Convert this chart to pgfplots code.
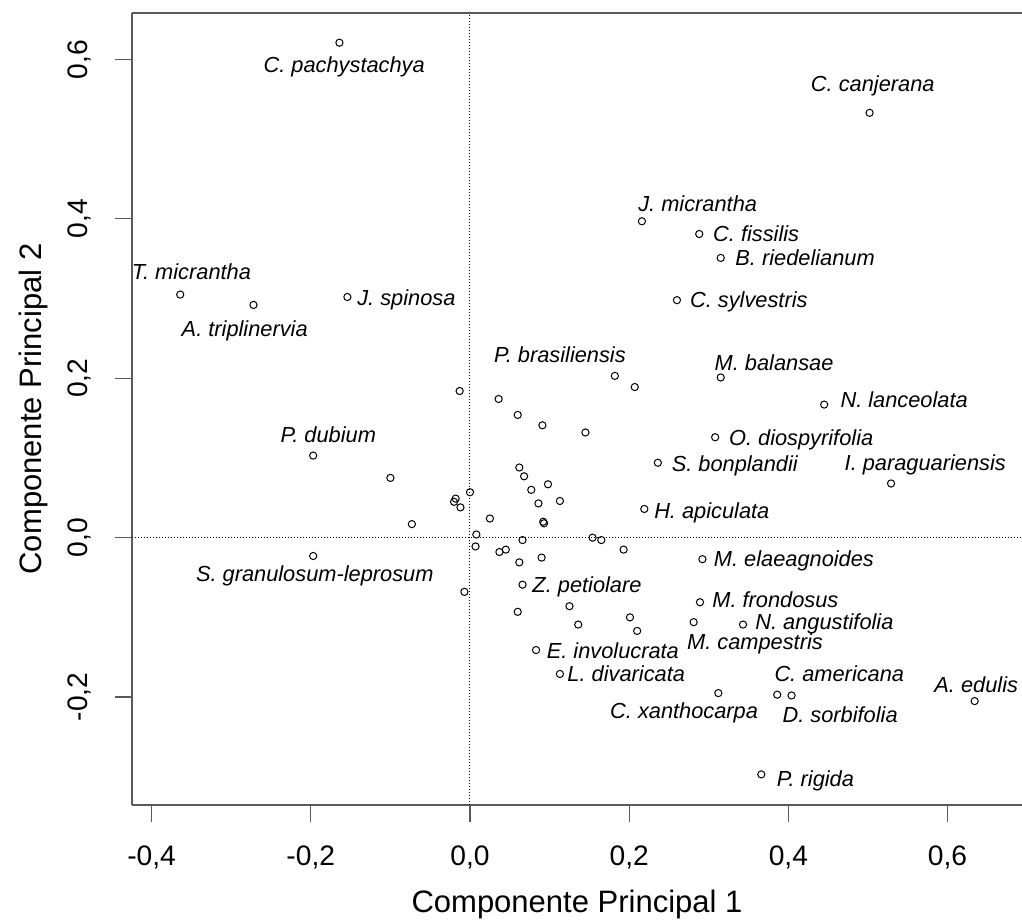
\documentclass[border=0pt]{standalone}
\usepackage{fontspec}
\setmainfont{Liberation Sans}
\usepackage{pgfplots}
\usepackage{pgfplotstable}
\pgfplotsset{compat=1.18}
\tikzset{lab/.style={font=\fontsize{10.9}{13}\selectfont\itshape, inner sep=0pt, yshift=-3.9pt}}

% PCA scores of the species (component 1, component 2)
\pgfplotstableread{
x y
-0.164 0.621
0.502 0.533
0.216 0.397
0.288 0.381
0.315 0.351
-0.364 0.305
-0.154 0.302
-0.272 0.292
0.260 0.298
0.182 0.203
0.207 0.189
0.315 0.201
-0.013 0.184
0.036 0.174
0.445 0.167
0.060 0.154
0.091 0.141
0.145 0.132
0.308 0.126
-0.197 0.103
0.236 0.094
0.062 0.088
0.068 0.077
-0.100 0.075
0.529 0.068
0.098 0.067
0.077 0.060
0.000 0.057
-0.018 0.049
-0.020 0.045
0.113 0.046
0.086 0.043
-0.012 0.038
0.219 0.036
0.025 0.024
0.092 0.020
0.093 0.018
-0.073 0.017
0.008 0.004
0.154 0.000
0.165 -0.003
0.066 -0.003
0.007 -0.011
0.193 -0.015
0.045 -0.015
0.037 -0.018
-0.197 -0.023
0.090 -0.025
0.292 -0.027
0.062 -0.031
0.066 -0.059
-0.007 -0.068
0.289 -0.081
0.125 -0.086
0.060 -0.093
0.201 -0.100
0.281 -0.106
0.343 -0.109
0.136 -0.109
0.210 -0.117
0.083 -0.141
0.113 -0.171
0.312 -0.195
0.386 -0.197
0.404 -0.198
0.634 -0.205
0.366 -0.297
}\scores

\begin{document}
\begin{tikzpicture}[x=1pt,y=1pt]
\useasboundingbox (-66,-59.5) rectangle (445,402.5);
\begin{axis}[
  at={(0,0)}, anchor=south west,
  scale only axis, width=445pt, height=396pt,
  xmin=-0.4246, xmax=0.6935,
  ymin=-0.3354, ymax=0.6583,
  clip=false,
  axis x line=box, axis y line=left,
  axis line style={-, black!65, line width=0.6pt},
  xtick pos=bottom, ytick pos=left,
  tick align=outside,
  major tick length=8.5pt,
  tick style={black!65, line width=0.6pt},
  xtick={-0.4,-0.2,0,0.2,0.4,0.6},
  xticklabels={{-0,4},{-0,2},{0,0},{0,2},{0,4},{0,6}},
  ytick={-0.2,0,0.2,0.4,0.6},
  yticklabels={{-0,2},{0,0},{0,2},{0,4},{0,6}},
  ticklabel style={font=\fontsize{14.1}{17}\selectfont, inner sep=0pt},
  xticklabel style={anchor=center, yshift=-17.8pt},
  yticklabel style={xshift=-17.8pt, rotate=90, anchor=center},
  xlabel={Componente Principal 1},
  ylabel={Componente Principal 2},
  label style={font=\fontsize{15.5}{18}\selectfont, inner sep=0pt},
  xlabel style={at={(axis description cs:0.5,-0.125)}, anchor=center},
  ylabel style={at={(axis description cs:-0.1112,0.5)}, anchor=center},
]
% reference lines through the origin
\draw[line width=0.5pt, dash pattern=on 0.5pt off 1pt] (axis cs:0,-0.3354) -- (axis cs:0,0.6583);
\draw[line width=0.5pt, dash pattern=on 0.5pt off 1pt] (axis cs:-0.4246,0) -- (axis cs:0.6935,0);

\addplot[only marks, mark=o, mark size=1.8pt, mark options={line width=0.5pt, black}] table[x=x, y=y] {\scores};

% species names
\node[lab, anchor=base] at (axis cs:-0.158,0.593) {C. pachystachya};
\node[lab, anchor=base] at (axis cs:0.506,0.570) {C. canjerana};
\node[lab, anchor=base west] at (axis cs:0.211,0.419) {J. micrantha};
\node[lab, anchor=base west] at (axis cs:0.305,0.381) {C. fissilis};
\node[lab, anchor=base west] at (axis cs:0.333,0.351) {B. riedelianum};
\node[lab, anchor=base] at (axis cs:-0.350,0.334) {T. micrantha};
\node[lab, anchor=base west] at (axis cs:-0.142,0.301) {J. spinosa};
\node[lab, anchor=base] at (axis cs:-0.283,0.262) {A. triplinervia};
\node[lab, anchor=base west] at (axis cs:0.276,0.298) {C. sylvestris};
\node[lab, anchor=base] at (axis cs:0.113,0.229) {P. brasiliensis};
\node[lab, anchor=base] at (axis cs:0.382,0.220) {M. balansae};
\node[lab, anchor=base west] at (axis cs:0.465,0.173) {N. lanceolata};
\node[lab, anchor=base west] at (axis cs:0.325,0.125) {O. diospyrifolia};
\node[lab, anchor=base] at (axis cs:-0.178,0.129) {P. dubium};
\node[lab, anchor=base west] at (axis cs:0.253,0.093) {S. bonplandii};
\node[lab, anchor=base] at (axis cs:0.572,0.094) {I. paraguariensis};
\node[lab, anchor=base west] at (axis cs:0.231,0.034) {H. apiculata};
\node[lab, anchor=base west] at (axis cs:0.306,-0.027) {M. elaeagnoides};
\node[lab, anchor=base] at (axis cs:-0.195,-0.045) {S. granulosum-leprosum};
\node[lab, anchor=base west] at (axis cs:0.078,-0.059) {Z. petiolare};
\node[lab, anchor=base west] at (axis cs:0.304,-0.078) {M. frondosus};
\node[lab, anchor=base west] at (axis cs:0.358,-0.105) {N. angustifolia};
\node[lab, anchor=base] at (axis cs:0.358,-0.131) {M. campestris};
\node[lab, anchor=base west] at (axis cs:0.096,-0.142) {E. involucrata};
\node[lab, anchor=base west] at (axis cs:0.122,-0.171) {L. divaricata};
\node[lab, anchor=base] at (axis cs:0.464,-0.171) {C. americana};
\node[lab, anchor=base] at (axis cs:0.636,-0.184) {A. edulis};
\node[lab, anchor=base] at (axis cs:0.269,-0.217) {C. xanthocarpa};
\node[lab, anchor=base] at (axis cs:0.465,-0.222) {D. sorbifolia};
\node[lab, anchor=base west] at (axis cs:0.385,-0.302) {P. rigida};
\end{axis}
\end{tikzpicture}
\end{document}
